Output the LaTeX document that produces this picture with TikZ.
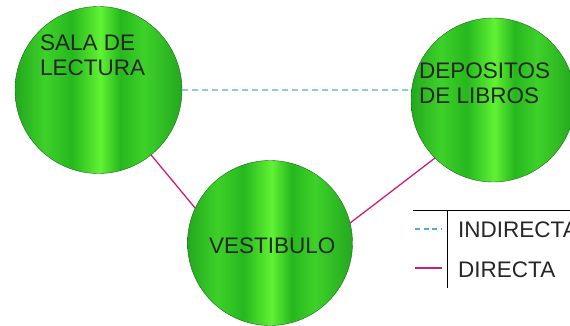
\documentclass[tikz,border=0pt]{standalone}
\usepackage{fontspec}
\setmainfont{Liberation Sans}
\definecolor{gdark}{rgb}{0.14,0.66,0.12}
\definecolor{gmid}{rgb}{0.24,0.82,0.16}
\definecolor{gband}{rgb}{0.15,0.72,0.12}
\definecolor{gbright}{rgb}{0.38,0.95,0.20}
\definecolor{gedge}{rgb}{0.10,0.42,0.10}
\definecolor{indblue}{rgb}{0.35,0.65,0.85}
\definecolor{dirmag}{rgb}{0.80,0.12,0.45}
\pgfdeclarehorizontalshading{greenstripes}{100bp}{%
  color(0bp)=(gdark); color(25bp)=(gdark); color(34bp)=(gmid);
  color(42bp)=(gband); color(50.5bp)=(gbright); color(56.5bp)=(gband);
  color(63.5bp)=(gmid); color(75bp)=(gdark); color(100bp)=(gdark)}
\begin{document}
\begin{tikzpicture}[x=1pt,y=-1pt,
  room/.style={circle,minimum size=#1,inner sep=0pt,outer sep=0pt,
    shading=greenstripes,draw=gedge,line width=0.4pt},
  roomtext/.style={anchor=base west,inner sep=0pt,align=left,
    font=\fontsize{22.5}{25}\selectfont,text=black!85},
  legtext/.style={anchor=base west,inner sep=0pt,
    font=\fontsize{22.5}{24}\selectfont,text=black!85},
  indirect/.style={draw=indblue,line width=1.3pt,dash pattern=on 6pt off 4pt},
  direct/.style={draw=dirmag,line width=1.3pt},
  legline/.style={draw=black,line width=0.8pt}]
\useasboundingbox (0,0) rectangle (570,325);
\node[room=167pt] (c1) at (98.5,90) {};
\node[room=164pt] (c2) at (493,100) {};
\node[room=165pt] (c3) at (270,243) {};
\node[roomtext] (t1) at (40,75) {SALA DE\\LECTURA};
\node[roomtext] (t2) at (419,103) {DEPOSITOS\\DE LIBROS};
\node[roomtext] (t3) at (209,253) {VESTIBULO};
\draw[indirect] (c1.0) -- (c2.173);
\draw[direct] (c1.-51.5) -- (c3.155.6);
\draw[direct] (c3.14.5) -- (c2.225.5);
% legend
\coordinate (h1) at (413,210);
\coordinate (h2) at (570,210);
\coordinate (v1) at (447,210);
\coordinate (v2) at (447,288);
\draw[legline] (h1) -- (h2);
\draw[legline] (v1) -- (v2);
\coordinate (d1) at (415,229);
\coordinate (d2) at (442,229);
\coordinate (s1) at (415,268);
\coordinate (s2) at (442,268);
\draw[draw=indblue,line width=1.2pt,dash pattern=on 5pt off 3.5pt] (d1) -- (d2);
\draw[direct] (s1) -- (s2);
\node[legtext] (l1) at (458,237) {INDIRECTA};
\node[legtext] (l2) at (458,277) {DIRECTA};
\end{tikzpicture}
\end{document}
